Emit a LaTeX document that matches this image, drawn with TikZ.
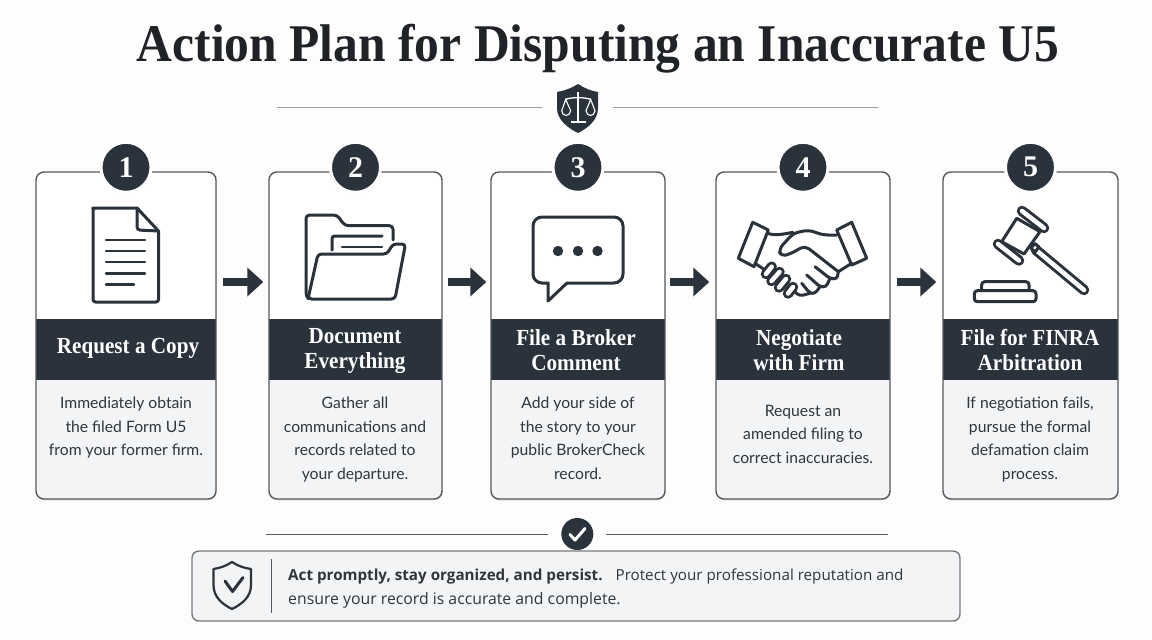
\documentclass[tikz,border=0pt]{standalone}
\usepackage{fontspec}
\setmainfont{Liberation Serif}
\newfontfamily\bodyfont{Lato}
\newfontfamily\notefont{Open Sans}
\newfontfamily\titlefont[FakeStretch=0.935]{Liberation Serif}
\newfontfamily\headfont[FakeStretch=0.92]{Liberation Serif}
\usetikzlibrary{arrows.meta,shadows}
\definecolor{inkdark}{HTML}{2A323C}
\definecolor{titleink}{HTML}{1F2328}
\definecolor{edgegray}{HTML}{55595E}
\definecolor{rulegray}{HTML}{9A9DA1}
\definecolor{panelgray}{HTML}{F3F4F5}
\definecolor{pagewhite}{HTML}{FDFDFD}
\definecolor{textgray}{HTML}{30353B}
\tikzset{
  stepcard/.style={draw=edgegray,line width=1.4pt,rounded corners=8pt,minimum height=327pt,inner sep=0pt,fill=white,
    drop shadow={shadow xshift=0.5pt,shadow yshift=-1.5pt,opacity=0.2},
    path picture={
      \fill[panelgray,sharp corners] ([yshift=-208pt]path picture bounding box.north west) rectangle (path picture bounding box.south east);
      \fill[inkdark,sharp corners] ([yshift=-147pt]path picture bounding box.north west) rectangle ([yshift=-208pt]path picture bounding box.north east);
    }},
  badge/.style={circle,fill=inkdark,draw=pagewhite,line width=3pt,minimum size=50pt,inner sep=0pt,text=white,font=\fontsize{30}{30}\selectfont\bfseries},
  steptitle/.style={text=white,align=center,inner sep=0pt,font=\headfont\fontsize{23}{24.5}\selectfont\bfseries},
  steptext/.style={text=textgray,align=center,inner sep=0pt,anchor=north,font=\bodyfont\fontsize{15.7}{23.5}\selectfont},
  steparrow/.style={draw=inkdark,line width=7.5pt,-{Triangle[length=16pt,width=28pt]}},
  thinrule/.style={draw=rulegray,line width=1.8pt},
  icon/.style={draw=inkdark,line width=3pt,line join=round,line cap=round},
  iconline/.style={draw=inkdark,line width=2.4pt,line cap=round},
  capsule/.style={draw=inkdark,line width=3pt,line cap=round,double=white,double distance=4.5pt},
}
\begin{document}
\begin{tikzpicture}[x=1pt,y=-1pt]
\useasboundingbox (0,0) rectangle (1152,640);
\fill[pagewhite] (0,0) rectangle (1152,640);

% title
\node (title) [text=titleink] at (598,49) {\titlefont\fontsize{53}{53}\selectfont\bfseries Action Plan for Disputing an Inaccurate U5};

% rule under the title, shield in the middle
\coordinate (ruleA) at (277,107.5);
\coordinate (ruleB) at (542,107.5);
\coordinate (ruleC) at (613,107.5);
\coordinate (ruleD) at (878,107.5);
\draw[thinrule] (ruleA) -- (ruleB);
\draw[thinrule] (ruleC) -- (ruleD);
\fill[inkdark] (578,84) .. controls (584,88) and (591,91) .. (598,92) -- (598,108) .. controls (598,120) and (588,128) .. (578,133) .. controls (568,128) and (557,120) .. (557,108) -- (557,92) .. controls (564,91) and (572,88) .. (578,84) -- cycle;
\draw[white,line width=1.6pt] (578,92) -- (578,121);
\draw[white,line width=2pt] (571,122) -- (586,122);
\draw[white,line width=1.3pt] (565,99.5) .. controls (572,97) and (584,97) .. (591,99.5);
\draw[white,line width=1.1pt] (561.7,110.7) -- (565.7,99.5) -- (570.7,110.7) .. controls (570,117) and (562,117) .. (561.7,110.7) -- cycle;
\draw[white,line width=1.1pt] (586,110.7) -- (590.7,99.5) -- (595,110.7) .. controls (594.5,117) and (586.5,117) .. (586,110.7) -- cycle;

% the five cards
\node (card1) [stepcard,minimum width=180pt] at (126,335.5) {};
\node (card2) [stepcard,minimum width=173pt] at (355.5,335.5) {};
\node (card3) [stepcard,minimum width=174pt] at (578,335.5) {};
\node (card4) [stepcard,minimum width=174pt] at (803,335.5) {};
\node (card5) [stepcard,minimum width=175pt] at (1030.5,335.5) {};

\node (badge1) [badge] at ([yshift=4pt]card1.north) {1};
\node (badge2) [badge] at ([yshift=4pt]card2.north) {2};
\node (badge3) [badge] at ([yshift=4pt]card3.north) {3};
\node (badge4) [badge] at ([yshift=4pt]card4.north) {4};
\node (badge5) [badge] at ([yshift=4pt]card5.north) {5};

\node (head1) [steptitle] at (128,348.5) {Request a Copy};
\node (head2) [steptitle] at (355,351) {Document\\Everything};
\node (head3) [steptitle] at (576,350) {File a Broker\\Comment};
\node (head4) [steptitle] at (799,350) {Negotiate\\with Firm};
\node (head5) [steptitle] at (1030,350) {File for FINRA\\Arbitration};

\node (text1) [steptext] at (126,397) {Immediately obtain\\the filed Form U5\\from your former firm.};
\node (text2) [steptext] at (355,397) {Gather all\\communications and\\records related to\\your departure.};
\node (text3) [steptext] at (578,397) {Add your side of\\the story to your\\public BrokerCheck\\record.};
\node (text4) [steptext] at (803,405) {Request an\\amended filing to\\correct inaccuracies.};
\node (text5) [steptext] at (1030,397) {If negotiation fails,\\pursue the formal\\defamation claim\\process.};

% arrows between the cards
\coordinate (flow) at (0,282);
\draw[steparrow,shorten <=6pt,shorten >=5pt] (card1.east |- flow) -- (card2.west |- flow);
\draw[steparrow,shorten <=5pt,shorten >=4pt] (card2.east |- flow) -- (card3.west |- flow);
\draw[steparrow,shorten <=4pt,shorten >=6pt] (card3.east |- flow) -- (card4.west |- flow);
\draw[steparrow,shorten <=6pt,shorten >=6pt] (card4.east |- flow) -- (card5.west |- flow);

% document
\draw[icon,rounded corners=2.5pt] (137,208) -- (95,208) -- (93,208) -- (93,302) -- (158.5,302) -- (158.5,231);
\draw[icon] (137,208) -- (158.5,231);
\draw[icon,rounded corners=3pt] (137,208) -- (137,230) -- (158.5,231);
\draw[iconline] (106,240) -- (145,240);
\draw[iconline] (106,251) -- (145,251);
\draw[iconline] (106,262) -- (145,262);
\draw[iconline] (106,273.5) -- (145,273.5);
\draw[iconline] (106,284.5) -- (134,284.5);

% folder
\draw[icon,rounded corners=3.5pt] (308,298.5) -- (306,296) -- (306,215) -- (337,215) -- (345,225.7) -- (393,225.7) -- (393,240);
\draw[icon,rounded corners=3.5pt] (308,299) -- (318,254) -- (387,254) -- (393,244) -- (405.5,244) -- (395,299) -- cycle;
\draw[icon,rounded corners=2.5pt] (332,250) -- (332,236) -- (382,236);
\draw[iconline] (342,247) -- (382,247);

% speech bubble
\draw[icon,rounded corners=9pt] (548,283) -- (533,283) -- (533,217) -- (623,217) -- (623,283) -- (567,283);
\draw[icon] (548,283) -- (548,301) -- (567,283);
\fill[inkdark] (558,251) circle (5.2);
\fill[inkdark] (578,251) circle (5.2);
\fill[inkdark] (597.5,251) circle (5.2);

% handshake
\draw[icon] (752.7,222.3) -- (768.3,230) -- (754,266.7) -- (738.3,258.3) -- cycle;
\draw[icon] (851.7,222.3) -- (836.7,230) -- (851.7,265) -- (866.7,258.3) -- cycle;
\draw[icon] (767.3,233.3) .. controls (776,236) and (784,234) .. (793,232.3);
\draw[icon,rounded corners=5pt] (836.7,235) -- (823.3,235) -- (808.3,230) -- (793.3,233.3) -- (779,249) -- (780.7,256.5) -- (790,254) -- (805,245.7) -- (838.3,271.7);
\draw[icon] (851.7,263.3) -- (838.3,271.7);
\draw[icon,rounded corners=3pt] (838.3,271.7) -- (837,279) -- (830,278.5) -- (815,266.7);
\draw[icon,rounded corners=3pt] (830,278.5) -- (826,287) -- (820,286.7) -- (806.7,275);
\draw[icon,rounded corners=3pt] (820,286.7) -- (815,293.5) -- (810,293.3) -- (801.7,283.3);
\draw[icon,rounded corners=3pt] (810,293.3) -- (800,296) -- (795,292);
\draw[icon] (755,263.3) -- (765,270);
\draw[capsule] (771.7,266.7) -- (766,274);
\draw[capsule] (779.5,272) -- (771.5,281);
\draw[capsule] (786,279) -- (779,287.5);
\draw[capsule] (793,287) -- (788,293.5);

% gavel
\draw[icon,fill=white] (1016.7,218.3) -- (1001.7,241.7) -- (1024,254) -- (1040,231.7) -- cycle;
\draw[capsule] (1036,250) -- (1084,290);
\draw[capsule] (1022,211) -- (1044,228);
\draw[capsule] (998,244) -- (1019,260.5);
\draw[icon,fill=white] (1031,248) -- (1035,243.5) -- (1039,247) -- (1035,252) -- cycle;
\draw[icon,rounded corners=3pt] (981.7,290.7) -- (981.7,281.7) -- (1029,281.7) -- (1029,290.7);
\draw[icon,rounded corners=3pt] (974.3,290.7) rectangle (1036,301.7);

% rule above the closing note
\coordinate (ruleE) at (266,534);
\coordinate (ruleF) at (548,534);
\coordinate (ruleG) at (606,534);
\coordinate (ruleH) at (888,534);
\draw[draw=edgegray,line width=1pt] (ruleE) -- (ruleF);
\draw[draw=edgegray,line width=1pt] (ruleG) -- (ruleH);

% closing note
\node (note) [draw=edgegray!80,line width=1.4pt,fill=panelgray,rounded corners=7pt,minimum width=768pt,minimum height=70pt,inner sep=0pt] at (576,586) {};
\node (checkdot) [circle,fill=inkdark,minimum size=32pt,inner sep=0pt] at (577.3,534) {};
\draw[white,line width=3pt,line cap=round,line join=round] (570,534.5) -- (575,540) -- (585,528.5);
\draw[icon,line width=2.2pt] (232,562) .. controls (226,566) and (220,568) .. (213.5,569) -- (213.5,585) .. controls (213.5,597) and (222,604) .. (232,609) .. controls (242,604) and (251,597) .. (251,585) -- (251,569) .. controls (244,568) and (238,566) .. (232,562) -- cycle;
\draw[icon] (225,581) -- (232.5,591.5) -- (243,577.5);
\draw[draw=edgegray,line width=1pt] (271.7,559) -- (271.7,613);
\node (notetext) [anchor=base west,inner sep=0pt,text=textgray,align=left,font=\notefont\fontsize{15.2}{24}\selectfont] at (288,604) {\textbf{Act promptly, stay organized, and persist.}\hspace{13pt}Protect your professional reputation and\\\fontsize{15.8}{24}\selectfont ensure your record is accurate and complete.};
\end{tikzpicture}
\end{document}
